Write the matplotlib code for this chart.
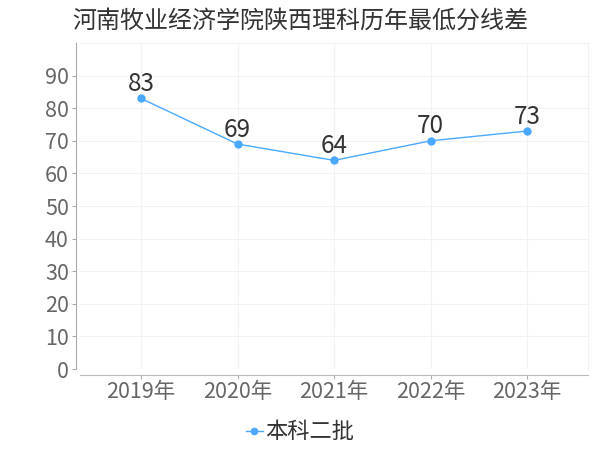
import matplotlib
matplotlib.use("Agg")
import matplotlib.pyplot as plt

plt.rcParams['font.family'] = ['Noto Sans CJK SC', 'DejaVu Sans']

# --- data ---
years = ["2019年", "2020年", "2021年", "2022年", "2023年"]
scores = [83, 69, 64, 70, 73]
series_name = "本科二批"
title = "河南牧业经济学院陕西理科历年最低分线差"

LINE_COLOR = "#4aa8ff"

fig = plt.figure(figsize=(6, 4.5), dpi=100)
ax = fig.add_axes([0.1333, 0.18, 0.847, 0.7244])

x = list(range(len(years)))
ax.plot(x, scores, color=LINE_COLOR, linewidth=1.0, marker="o",
        markersize=5, label=series_name, zorder=3)

for xi, v in zip(x, scores):
    ax.annotate(str(v), (xi, v), xytext=(0, 1), textcoords="offset points",
                ha="center", va="bottom", fontsize=17.5, color="#333333")

ax.set_xlim(-0.632, 4.632)
ax.set_ylim(0, 100)
ax.set_xticks(x)
ax.set_xticklabels(years)
ax.set_yticks(range(0, 100, 10))

ax.grid(True, color="#f2f2f2", linewidth=0.8, zorder=0)
ax.tick_params(axis="both", labelsize=15.5, colors="#666666", length=3,
               color="#aaaaaa", width=0.8)
ax.tick_params(axis="x", pad=2)
ax.tick_params(axis="y", pad=2)

for side in ["top", "right"]:
    ax.spines[side].set_color("#f2f2f2")
    ax.spines[side].set_linewidth(0.8)
ax.spines["left"].set_color("#aaaaaa")
ax.spines["bottom"].set_color("#bbbbbb")
ax.spines["left"].set_position(("outward", 3))
ax.spines["bottom"].set_position(("outward", 4))

fig.text(0.5, 0.955, title, ha="center", va="center", fontsize=17.3,
         color="#333333")

leg = fig.legend(loc="center", bbox_to_anchor=(0.5, 0.04), frameon=False,
                 fontsize=16, handlelength=0.8, handletextpad=0.1,
                 markerscale=0.9)
for t in leg.get_texts():
    t.set_color("#333333")

fig.savefig("out.png", dpi=100)
